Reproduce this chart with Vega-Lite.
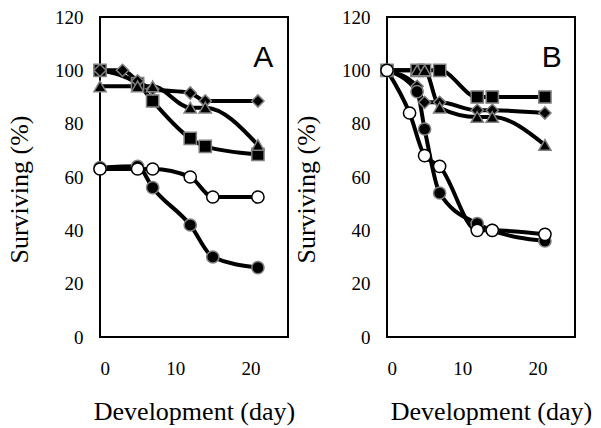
{
  "$schema": "https://vega.github.io/schema/vega-lite/v6.json",
  "padding": {"left": 5, "top": 7, "right": 5, "bottom": 5},
  "background": "white",
  "config": {
    "view": {"stroke": "#000000", "strokeWidth": 2},
    "font": "Liberation Serif",
    "axis": {"grid": false, "domain": false, "ticks": false, "labelFont": "Liberation Serif", "titleFont": "Liberation Serif", "labelFontSize": 19, "titleFontSize": 26, "titleFontWeight": "normal", "labelColor": "#000", "titleColor": "#000"},
    "axisY": {"labelPadding": 17, "titlePadding": 22},
    "axisX": {"labelPadding": 22, "titlePadding": 20}
  },
  "datasets": {
    "labels": [
      {"panel": "A", "label": "A", "day": 21.7, "surviving": 101.4},
      {"panel": "B", "label": "B", "day": 21.9, "surviving": 101.4}
    ],
    "rows": [
      {"panel": "A", "series": "S1", "day": 0, "surviving": 100},
      {"panel": "A", "series": "S1", "day": 5, "surviving": 95},
      {"panel": "A", "series": "S1", "day": 7, "surviving": 88.5},
      {"panel": "A", "series": "S1", "day": 12, "surviving": 74.5},
      {"panel": "A", "series": "S1", "day": 14, "surviving": 71.5},
      {"panel": "A", "series": "S1", "day": 21, "surviving": 68.5},
      {"panel": "A", "series": "S2", "day": 0, "surviving": 100},
      {"panel": "A", "series": "S2", "day": 3, "surviving": 100},
      {"panel": "A", "series": "S2", "day": 5, "surviving": 96},
      {"panel": "A", "series": "S2", "day": 7, "surviving": 93},
      {"panel": "A", "series": "S2", "day": 12, "surviving": 91.5},
      {"panel": "A", "series": "S2", "day": 14, "surviving": 88.5},
      {"panel": "A", "series": "S2", "day": 21, "surviving": 88.5},
      {"panel": "A", "series": "S3", "day": 0, "surviving": 94},
      {"panel": "A", "series": "S3", "day": 5, "surviving": 94},
      {"panel": "A", "series": "S3", "day": 7, "surviving": 94},
      {"panel": "A", "series": "S3", "day": 12, "surviving": 86},
      {"panel": "A", "series": "S3", "day": 14, "surviving": 86},
      {"panel": "A", "series": "S3", "day": 21, "surviving": 72},
      {"panel": "A", "series": "S4", "day": 0, "surviving": 63.5},
      {"panel": "A", "series": "S4", "day": 5, "surviving": 64},
      {"panel": "A", "series": "S4", "day": 7, "surviving": 56},
      {"panel": "A", "series": "S4", "day": 12, "surviving": 42},
      {"panel": "A", "series": "S4", "day": 15, "surviving": 30},
      {"panel": "A", "series": "S4", "day": 21, "surviving": 26},
      {"panel": "A", "series": "S5", "day": 0, "surviving": 63},
      {"panel": "A", "series": "S5", "day": 5, "surviving": 63},
      {"panel": "A", "series": "S5", "day": 7, "surviving": 63},
      {"panel": "A", "series": "S5", "day": 12, "surviving": 60},
      {"panel": "A", "series": "S5", "day": 15, "surviving": 52.5},
      {"panel": "A", "series": "S5", "day": 21, "surviving": 52.5},
      {"panel": "B", "series": "S1", "day": 0, "surviving": 100},
      {"panel": "B", "series": "S1", "day": 4, "surviving": 100},
      {"panel": "B", "series": "S1", "day": 5, "surviving": 100},
      {"panel": "B", "series": "S1", "day": 7, "surviving": 100},
      {"panel": "B", "series": "S1", "day": 12, "surviving": 90},
      {"panel": "B", "series": "S1", "day": 14, "surviving": 90},
      {"panel": "B", "series": "S1", "day": 21, "surviving": 90},
      {"panel": "B", "series": "S2", "day": 0, "surviving": 100},
      {"panel": "B", "series": "S2", "day": 4, "surviving": 94},
      {"panel": "B", "series": "S2", "day": 5, "surviving": 88},
      {"panel": "B", "series": "S2", "day": 7, "surviving": 88},
      {"panel": "B", "series": "S2", "day": 12, "surviving": 85},
      {"panel": "B", "series": "S2", "day": 14, "surviving": 85},
      {"panel": "B", "series": "S2", "day": 21, "surviving": 84},
      {"panel": "B", "series": "S3", "day": 0, "surviving": 100},
      {"panel": "B", "series": "S3", "day": 4, "surviving": 100},
      {"panel": "B", "series": "S3", "day": 5, "surviving": 100},
      {"panel": "B", "series": "S3", "day": 7, "surviving": 86},
      {"panel": "B", "series": "S3", "day": 12, "surviving": 82.5},
      {"panel": "B", "series": "S3", "day": 14, "surviving": 82.5},
      {"panel": "B", "series": "S3", "day": 21, "surviving": 72},
      {"panel": "B", "series": "S4", "day": 0, "surviving": 100},
      {"panel": "B", "series": "S4", "day": 4, "surviving": 92},
      {"panel": "B", "series": "S4", "day": 5, "surviving": 78},
      {"panel": "B", "series": "S4", "day": 7, "surviving": 54},
      {"panel": "B", "series": "S4", "day": 12, "surviving": 42.5},
      {"panel": "B", "series": "S4", "day": 14, "surviving": 40},
      {"panel": "B", "series": "S4", "day": 21, "surviving": 36},
      {"panel": "B", "series": "S5", "day": 0, "surviving": 100},
      {"panel": "B", "series": "S5", "day": 3, "surviving": 84},
      {"panel": "B", "series": "S5", "day": 5, "surviving": 68},
      {"panel": "B", "series": "S5", "day": 7, "surviving": 64},
      {"panel": "B", "series": "S5", "day": 12, "surviving": 40},
      {"panel": "B", "series": "S5", "day": 14, "surviving": 40},
      {"panel": "B", "series": "S5", "day": 21, "surviving": 38.5}
    ]
  },
  "spacing": -4,
  "hconcat": [
    {
      "width": 188,
      "height": 320,
      "encoding": {
        "x": {"field": "day", "type": "quantitative", "scale": {"domain": [0, 25], "nice": false}, "axis": {"values": [0, 10, 20], "title": "Development (day)"}},
        "y": {"field": "surviving", "type": "quantitative", "scale": {"domain": [0, 120], "nice": false}, "axis": {"values": [0, 20, 40, 60, 80, 100, 120], "title": "Surviving (%)", "titleY": 172}}
      },
      "layer": [
        {"data": {"name": "rows"}, "transform": [{"filter": "datum.panel === 'A'"}],
          "mark": {"type": "line", "interpolate": "monotone", "strokeWidth": 4, "color": "black"}, "encoding": {"detail": {"field": "series"}}},
        {"data": {"name": "rows"}, "transform": [{"filter": "datum.panel === 'A'"}],
          "mark": {"type": "point", "filled": false, "size": 150, "strokeWidth": 1.5, "opacity": 1},
          "encoding": {
            "shape": {"field": "series", "scale": {"domain": ["S1", "S2", "S3", "S4", "S5"], "range": ["square", "diamond", "triangle-up", "circle", "circle"]}, "legend": null},
            "fill": {"field": "series", "scale": {"domain": ["S1", "S2", "S3", "S4", "S5"], "range": ["black", "black", "black", "black", "white"]}, "legend": null},
            "stroke": {"field": "series", "scale": {"domain": ["S1", "S2", "S3", "S4", "S5"], "range": ["#808080", "#808080", "#808080", "#808080", "black"]}, "legend": null}
          }},
        {"data": {"name": "labels"}, "transform": [{"filter": "datum.panel === 'A'"}],
          "mark": {"type": "text", "font": "Liberation Sans", "fontSize": 30, "align": "center", "baseline": "alphabetic", "color": "black"},
          "encoding": {"text": {"field": "label"}}}
      ]
    },
    {
      "width": 188,
      "height": 320,
      "encoding": {
        "x": {"field": "day", "type": "quantitative", "scale": {"domain": [0, 25], "nice": false}, "axis": {"values": [0, 10, 20], "title": "Development (day)", "titleX": 104}},
        "y": {"field": "surviving", "type": "quantitative", "scale": {"domain": [0, 120], "nice": false}, "axis": {"values": [0, 20, 40, 60, 80, 100, 120], "title": "Surviving (%)", "titleY": 172}}
      },
      "layer": [
        {"data": {"name": "rows"}, "transform": [{"filter": "datum.panel === 'B'"}],
          "mark": {"type": "line", "interpolate": "monotone", "strokeWidth": 4, "color": "black"}, "encoding": {"detail": {"field": "series"}}},
        {"data": {"name": "rows"}, "transform": [{"filter": "datum.panel === 'B'"}],
          "mark": {"type": "point", "filled": false, "size": 150, "strokeWidth": 1.5, "opacity": 1},
          "encoding": {
            "shape": {"field": "series", "scale": {"domain": ["S1", "S2", "S3", "S4", "S5"], "range": ["square", "diamond", "triangle-up", "circle", "circle"]}, "legend": null},
            "fill": {"field": "series", "scale": {"domain": ["S1", "S2", "S3", "S4", "S5"], "range": ["black", "black", "black", "black", "white"]}, "legend": null},
            "stroke": {"field": "series", "scale": {"domain": ["S1", "S2", "S3", "S4", "S5"], "range": ["#808080", "#808080", "#808080", "#808080", "black"]}, "legend": null}
          }},
        {"data": {"name": "labels"}, "transform": [{"filter": "datum.panel === 'B'"}],
          "mark": {"type": "text", "font": "Liberation Sans", "fontSize": 30, "align": "center", "baseline": "alphabetic", "color": "black"},
          "encoding": {"text": {"field": "label"}}}
      ]
    }
  ],
  "resolve": {"scale": {"shape": "independent", "fill": "independent", "stroke": "independent"}}
}
